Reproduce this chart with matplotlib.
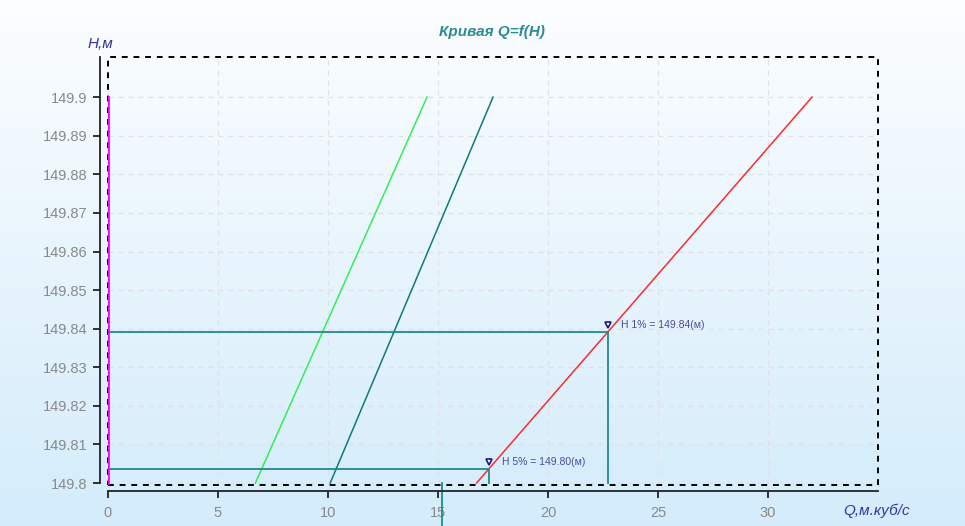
import numpy as np
import matplotlib
matplotlib.use('Agg')
import matplotlib.pyplot as plt
from matplotlib.patches import Rectangle

plt.rcParams['font.family'] = ['Liberation Sans', 'DejaVu Sans']

# curves Q=f(H): (Q at H=149.80, Q at H=149.90)
h_ends = [149.80, 149.90]
q_green = [6.7, 14.5]
q_teal = [10.1, 17.5]
q_red = [16.75, 32.0]

# design levels
h5_level = 149.8036
h5_q = 17.3
h1_level = 149.8391
h1_q = 22.71
q_extra = 15.2
h5_text = 'H 5% = 149.80(м)'
h1_text = 'H 1% = 149.84(м)'

x_ticks = [0, 5, 10, 15, 20, 25, 30]
y_ticks = [149.8, 149.81, 149.82, 149.83, 149.84, 149.85, 149.86, 149.87, 149.88, 149.89, 149.9]
y_labels = ['149.8', '149.81', '149.82', '149.83', '149.84', '149.85', '149.86', '149.87', '149.88', '149.89', '149.9']

fig = plt.figure(figsize=(9.65, 5.26), dpi=100)

# background gradient
bg = fig.add_axes([0, 0, 1, 1], zorder=-10)
grad = np.linspace(0, 1, 256).reshape(-1, 1)
top = np.array([0.99, 0.995, 1.0])
bot = np.array([0.83, 0.925, 0.985])
img = top + (bot - top) * grad[:, :, None]
bg.imshow(img, aspect='auto', extent=[0, 1, 0, 1])
bg.axis('off')

ax = fig.add_axes([108/965, 41/526, 770/965, 428/526])
ax.patch.set_alpha(0)
ax.set_xlim(0, 35)
ax.set_ylim(149.7995, 149.9104)

tc = '#1f8a8a'
ax.plot([0, 0], h_ends, color='#ff00ff', lw=2, zorder=7)
ax.plot(q_green, h_ends, color='#33ee55', lw=1.1)
ax.plot(q_teal, h_ends, color='#0f7a7a', lw=1.1)
ax.plot(q_red, h_ends, color='#ff2a2a', lw=1.1)

ax.plot([0, h5_q, h5_q], [h5_level, h5_level, 149.8], color=tc, lw=1.3)
ax.plot([0, h1_q, h1_q], [h1_level, h1_level, 149.8], color=tc, lw=1.3)
ax.plot([q_extra, q_extra], [149.8, 149.789], color=tc, lw=1.3, clip_on=False)

for q, h, txt in [(h5_q, h5_level, h5_text), (h1_q, h1_level, h1_text)]:
    ax.plot(q, h + 0.0018, marker='v', ms=5, mfc='white', mec='#1a1a80', mew=1.2, zorder=5)
    ax.text(q + 0.6, h + 0.0018, txt, fontsize=7.5, color='#4a4a9a', va='center')

ax.grid(True, color='#e0e0e6', ls=(0, (4, 4)), lw=0.9)
ax.set_xticks(x_ticks)
ax.set_yticks(y_ticks)
ax.set_yticklabels(y_labels)
ax.tick_params(colors='#222222', labelcolor='#8a8a8a', labelsize=10.5, width=1.3, length=5)
ax.tick_params(axis='x', pad=6)

for s in ['top', 'right']:
    ax.spines[s].set_visible(False)
ax.spines['left'].set_position(('outward', 6))
ax.spines['left'].set_bounds(149.8, 149.9104)
ax.spines['bottom'].set_position(('outward', 4))
ax.spines['left'].set_linewidth(1.3)
ax.spines['bottom'].set_linewidth(1.3)
ax.spines['left'].set_color('#222222')
ax.spines['bottom'].set_color('#222222')

ax.add_patch(Rectangle((0, 0), 1, 1, transform=ax.transAxes, fill=False,
                       ec='black', lw=1.4, ls=(0, (3, 3)), clip_on=False, zorder=6))

fig.text(492/965, 1 - 32/526, 'Кривая Q=f(H)', color='#2b8c96', fontsize=11,
         fontweight='bold', style='italic', ha='center', va='center')
fig.text(100/965, 1 - 44/526, 'H,м', color='#3535a5', fontsize=11,
         style='italic', ha='center', va='center')
fig.text(877/965, 1 - 511/526, 'Q,м.куб/с', color='#3535a5', fontsize=11,
         style='italic', ha='center', va='center')

fig.savefig('out.png', dpi=100)
